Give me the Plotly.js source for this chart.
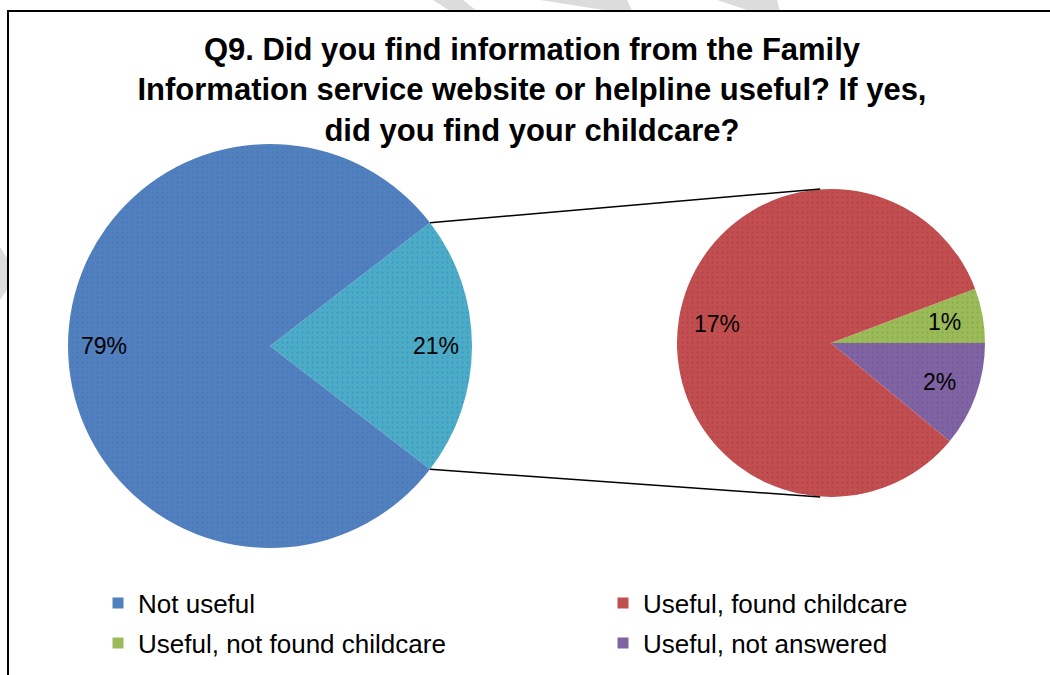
<!DOCTYPE html>
<html>
<head>
<meta charset="utf-8">
<script src="https://cdn.plot.ly/plotly-3.0.1.min.js"></script>
<style>
  html, body { margin: 0; padding: 0; background: #ffffff; }
  #chart { width: 1050px; height: 675px; }
</style>
</head>
<body>
<div id="chart"></div>
<script>
// ---- data ----
var mainLabels = ["Useful", "Not useful"];
var mainValues = [20.9, 79.1];
var subLabels = ["Useful, not found childcare", "Useful, not answered", "Useful, found childcare"];
var subValues = [1.2, 2.3, 17.4];
var legendNames = ["Not useful", "Useful, found childcare", "Useful, not found childcare", "Useful, not answered"];
var titleText = "Q9. Did you find information from the Family<br>Information service website or helpline useful? If yes,<br>did you find your childcare?";

// ---- styles ----
var W = 1050, H = 675;
var FONT = "Liberation Sans, Arial, sans-serif";
var mainColors = ["#4BACC6", "#4F81BD"];
var mainDots = ["#3F86C8", "#5A62C8"];
var subColors = ["#9BBB59", "#8064A2", "#C0504D"];
var subDots = ["#7FA040", "#6A4FA8", "#C02A60"];
var legendColors = ["#4F81BD", "#C0504D", "#9BBB59", "#8064A2"];
var legendIds = ["legend", "legend2", "legend3", "legend4"];
var legendPos = [[98, 603], [603, 603], [98, 643], [603, 643]];

function sum(a) { return a.reduce(function (s, v) { return s + v; }, 0); }
var mainTotal = sum(mainValues), subTotal = sum(subValues);
var mainRotation = 90 - mainValues[0] / mainTotal * 180;
var subRotation = 90 - subValues[0] / subTotal * 360;

function px(x) { return x / W; }
function py(y) { return 1 - y / H; }

var mainDomain = { x: [px(68), px(472)], y: [py(548), py(144)] };
var subDomain = { x: [px(677), px(985)], y: [py(497), py(189)] };

var traces = [
  {
    type: "pie", labels: mainLabels, values: mainValues, sort: false,
    direction: "clockwise", rotation: mainRotation, textinfo: "none",
    hoverinfo: "label+value", showlegend: false, domain: mainDomain,
    marker: { colors: mainColors, line: { width: 0 },
      pattern: { shape: ".", size: 5, solidity: 0.1, fgcolor: mainDots, bgcolor: mainColors, fgopacity: 0.8 } }
  },
  {
    type: "pie", labels: subLabels, values: subValues, sort: false,
    direction: "clockwise", rotation: subRotation, textinfo: "none",
    hoverinfo: "label+value", showlegend: false, domain: subDomain,
    marker: { colors: subColors, line: { width: 0 },
      pattern: { shape: ".", size: 5, solidity: 0.1, fgcolor: subDots, bgcolor: subColors, fgopacity: 0.8 } }
  }
];
legendNames.forEach(function (n, i) {
  traces.push({
    type: "scatter", mode: "markers", x: [null], y: [null], name: n,
    marker: { symbol: "square", size: 11, color: legendColors[i] },
    legend: legendIds[i], hoverinfo: "skip"
  });
});

function P(pts) {
  return pts.map(function (p, i) { return (i ? "L" : "M") + px(p[0]) + "," + py(p[1]); }).join(" ");
}

// pie geometry from the domains (Plotly centres the circle in its domain box)
function geom(dom) {
  var cx = (dom.x[0] + dom.x[1]) / 2 * W, cy = (1 - (dom.y[0] + dom.y[1]) / 2) * H;
  var r = Math.min((dom.x[1] - dom.x[0]) * W, (dom.y[1] - dom.y[0]) * H) / 2;
  return { cx: cx, cy: cy, r: r };
}
var g1 = geom(mainDomain), g2 = geom(subDomain);
function pt(g, angDeg, f) {
  var a = angDeg * Math.PI / 180;
  return [g.cx + f * g.r * Math.sin(a), g.cy - f * g.r * Math.cos(a)];
}

var annotations = [];
function labels(g, vals, tot, rot, f) {
  var start = rot;
  vals.forEach(function (v) {
    var span = v / tot * 360;
    var p = pt(g, start + span / 2, f);
    annotations.push({ xref: "paper", yref: "paper", x: px(p[0]), y: py(p[1]),
      xanchor: "center", yanchor: "middle", showarrow: false,
      text: Math.round(v) + "%", font: { family: FONT, size: 23, color: "#000000" } });
    start += span;
  });
}
labels(g1, mainValues, mainTotal, mainRotation, 0.82);
labels(g2, subValues, subTotal, subRotation, 0.75);

var a0 = mainRotation, a1 = mainRotation + mainValues[0] / mainTotal * 360;
var e0 = pt(g1, a0, 1), e1 = pt(g1, a1, 1);
var topPt = [g2.cx - 0.07 * g2.r, g2.cy - g2.r], botPt = [g2.cx - 0.07 * g2.r, g2.cy + g2.r];

var shapes = [
  { type: "path", xref: "paper", yref: "paper", layer: "below", fillcolor: "#dcdcdc", line: { width: 0 },
    path: P([[433, 0], [463, 0], [477, 11], [450, 11]]) + " Z" },
  { type: "path", xref: "paper", yref: "paper", layer: "below", fillcolor: "#dcdcdc", line: { width: 0 },
    path: P([[540, 0], [627, 0], [632, 11], [610, 11]]) + " Z" },
  { type: "path", xref: "paper", yref: "paper", layer: "below", fillcolor: "#dcdcdc", line: { width: 0 },
    path: P([[717, 0], [777, 0], [780, 11], [750, 11]]) + " Z" },
  { type: "path", xref: "paper", yref: "paper", layer: "below", fillcolor: "#dcdcdc", line: { width: 0 },
    path: P([[0, 247], [7, 258], [7, 290], [0, 300]]) + " Z" },
  { type: "path", xref: "paper", yref: "paper", line: { color: "#000000", width: 2 },
    path: P([[8, 676], [8, 11], [1051, 11]]) },
  { type: "line", xref: "paper", yref: "paper", x0: px(e0[0]), y0: py(e0[1]), x1: px(topPt[0]), y1: py(topPt[1]),
    line: { color: "#000000", width: 1.5 } },
  { type: "line", xref: "paper", yref: "paper", x0: px(e1[0]), y0: py(e1[1]), x1: px(botPt[0]), y1: py(botPt[1]),
    line: { color: "#000000", width: 1.5 } }
];

var layout = {
  width: W, height: H,
  margin: { l: 0, r: 0, t: 0, b: 0 },
  paper_bgcolor: "#ffffff", plot_bgcolor: "#ffffff",
  font: { family: FONT, color: "#000000" },
  title: { text: titleText, x: px(532), xanchor: "center", xref: "paper",
    y: py(60), yanchor: "top", yref: "container",
    font: { family: FONT, size: 31, color: "#000000", weight: "bold" } },
  xaxis: { visible: false }, yaxis: { visible: false },
  annotations: annotations,
  shapes: shapes,
  showlegend: true
};
legendIds.forEach(function (id, i) {
  layout[id] = {
    orientation: "h", xanchor: "left", yanchor: "middle",
    x: px(legendPos[i][0]), y: py(legendPos[i][1]), bgcolor: "rgba(0,0,0,0)",
    font: { family: FONT, size: 26, color: "#000000" }, itemclick: false, itemdoubleclick: false
  };
});

Plotly.newPlot(document.getElementById("chart"), traces, layout, { displayModeBar: false, staticPlot: true });
</script>
</body>
</html>
